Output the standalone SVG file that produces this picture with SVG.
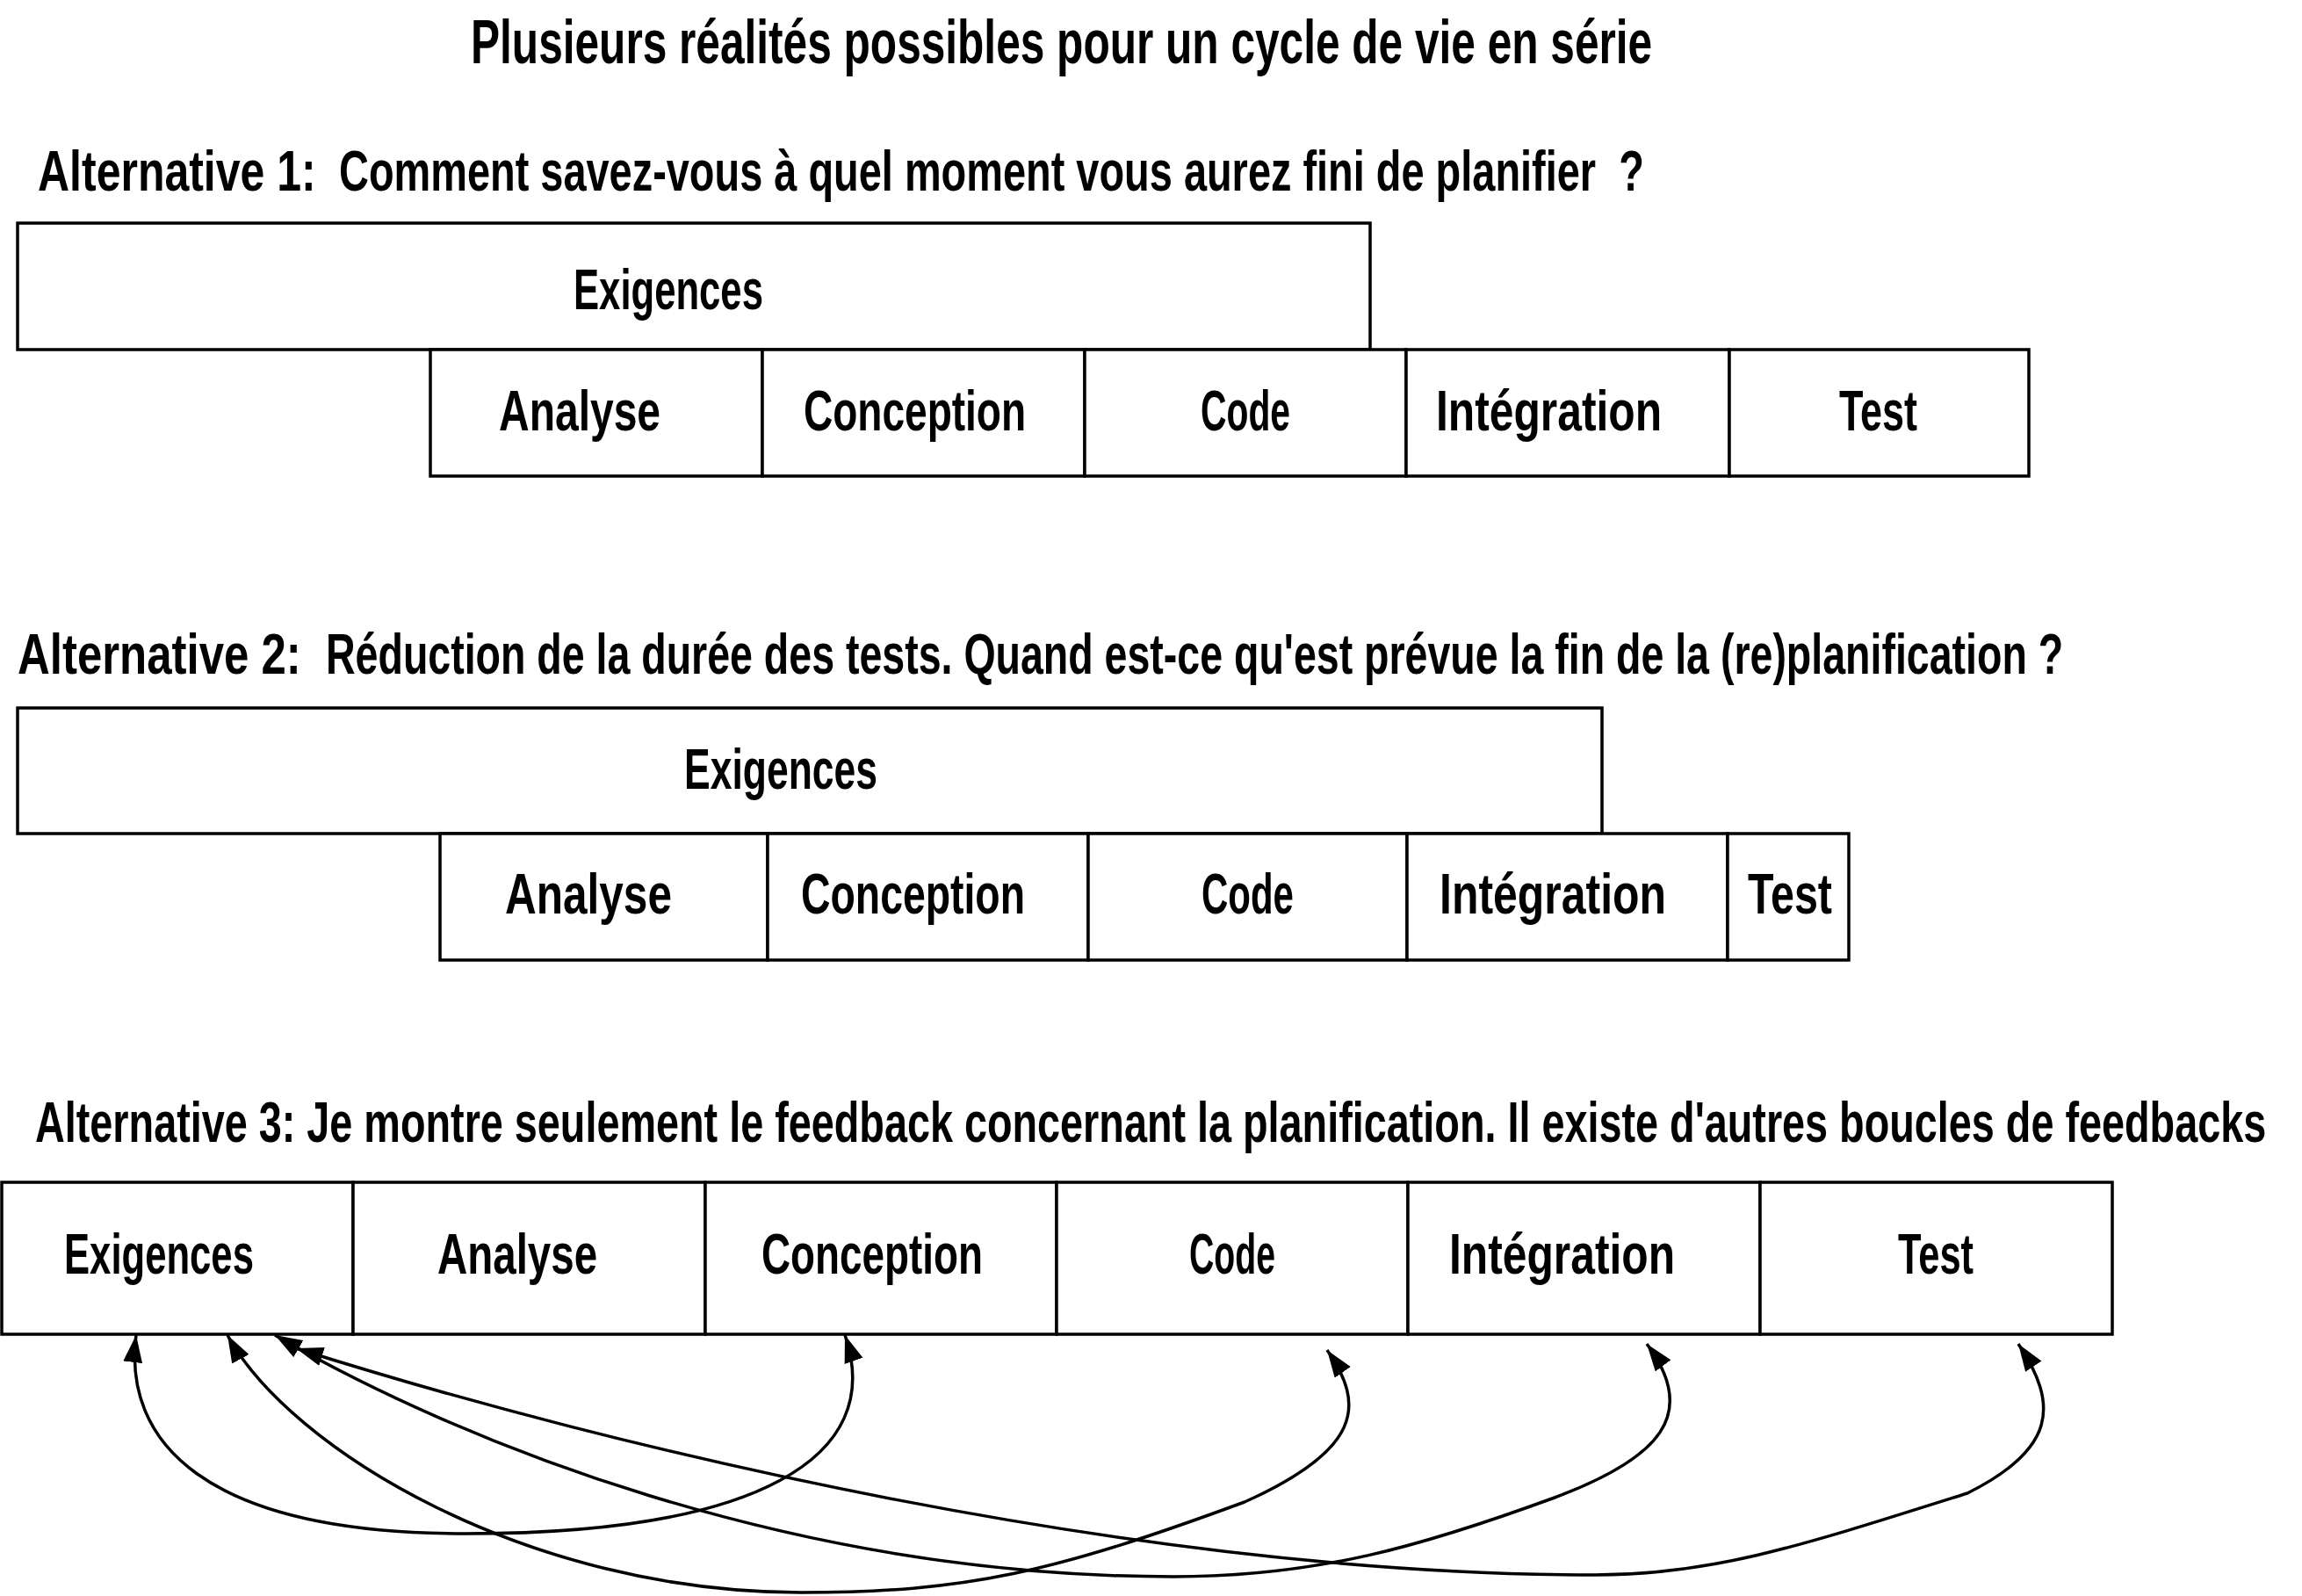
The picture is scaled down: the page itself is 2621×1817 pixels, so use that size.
<svg xmlns="http://www.w3.org/2000/svg" width="2621" height="1817" viewBox="0 0 2621 1817">
<style>
  text { font-family: "Liberation Sans", Arial, sans-serif; font-weight: bold; fill: #000; }
  .title { font-size: 70px; }
  .head { font-size: 64px; }
  .lbl { font-size: 64px; }
  .box { fill: #fff; stroke: #000; stroke-width: 3.5; }
  .conn { fill: none; stroke: #000; stroke-width: 3.5; marker-start: url(#ah); marker-end: url(#ah); }
</style>
<defs>
  <marker id="ah" markerUnits="userSpaceOnUse" markerWidth="34" markerHeight="24" refX="31" refY="11" orient="auto-start-reverse">
    <path d="M0,0 L31,11 L0,22 Z" fill="#000"/>
  </marker>
</defs>
<rect width="2621" height="1817" fill="#fff"/>

<text class="title" transform="translate(536,72) scale(0.708,1)" textLength="1900" lengthAdjust="spacingAndGlyphs">Plusieurs réalités possibles pour un cycle de vie en série</text>

<text class="head" transform="translate(43,217) scale(0.78,1)" textLength="406" lengthAdjust="spacingAndGlyphs">Alternative 1:</text>
<text class="head" transform="translate(386,217) scale(0.733,1)" textLength="2027" lengthAdjust="spacingAndGlyphs" xml:space="preserve">Comment savez-vous à quel moment vous aurez fini de planifier  ?</text>

<text class="head" transform="translate(20,767) scale(0.797,1)" textLength="405" lengthAdjust="spacingAndGlyphs">Alternative 2:</text>
<text class="head" transform="translate(371,767) scale(0.727,1)" textLength="2721" lengthAdjust="spacingAndGlyphs">Réduction de la durée des tests. Quand est-ce qu'est prévue la fin de la (re)planification ?</text>

<text class="head" transform="translate(40,1300) scale(0.731,1)" textLength="3475" lengthAdjust="spacingAndGlyphs">Alternative 3: Je montre seulement le feedback concernant la planification. Il existe d'autres boucles de feedbacks</text>

<!-- Alternative 1 -->
<g id="a1-exigences"><rect class="box" x="20" y="254" width="1540" height="144"/><text class="lbl" transform="translate(653,352) scale(0.682,1)" textLength="316.6" lengthAdjust="spacingAndGlyphs">Exigences</text></g>
<g id="a1-analyse"><rect class="box" x="490" y="398" width="378" height="144"/><text class="lbl" transform="translate(568,490) scale(0.75,1)" textLength="245.4" lengthAdjust="spacingAndGlyphs">Analyse</text></g>
<g id="a1-conception"><rect class="box" x="868" y="398" width="367" height="144"/><text class="lbl" transform="translate(915,490) scale(0.719,1)" textLength="352" lengthAdjust="spacingAndGlyphs">Conception</text></g>
<g id="a1-code"><rect class="box" x="1235" y="398" width="366" height="144"/><text class="lbl" transform="translate(1367,490) scale(0.6375,1)" textLength="160" lengthAdjust="spacingAndGlyphs">Code</text></g>
<g id="a1-integration"><rect class="box" x="1601" y="398" width="368" height="144"/><text class="lbl" transform="translate(1635,490) scale(0.779,1)" textLength="330" lengthAdjust="spacingAndGlyphs">Intégration</text></g>
<g id="a1-test"><rect class="box" x="1969" y="398" width="341" height="144"/><text class="lbl" transform="translate(2094,490) scale(0.676,1)" textLength="131.6" lengthAdjust="spacingAndGlyphs">Test</text></g>

<!-- Alternative 2 -->
<g id="a2-exigences"><rect class="box" x="20" y="806" width="1804" height="143"/><text class="lbl" transform="translate(779,898) scale(0.695,1)" textLength="316.6" lengthAdjust="spacingAndGlyphs">Exigences</text></g>
<g id="a2-analyse"><rect class="box" x="501" y="949" width="373" height="144"/><text class="lbl" transform="translate(575,1040) scale(0.774,1)" textLength="245.4" lengthAdjust="spacingAndGlyphs">Analyse</text></g>
<g id="a2-conception"><rect class="box" x="874" y="949" width="365" height="144"/><text class="lbl" transform="translate(912,1040) scale(0.7245,1)" textLength="352" lengthAdjust="spacingAndGlyphs">Conception</text></g>
<g id="a2-code"><rect class="box" x="1239" y="949" width="363" height="144"/><text class="lbl" transform="translate(1368,1040) scale(0.656,1)" textLength="160" lengthAdjust="spacingAndGlyphs">Code</text></g>
<g id="a2-integration"><rect class="box" x="1602" y="949" width="365" height="144"/><text class="lbl" transform="translate(1639,1040) scale(0.782,1)" textLength="330" lengthAdjust="spacingAndGlyphs">Intégration</text></g>
<g id="a2-test"><rect class="box" x="1967" y="949" width="138" height="144"/><text class="lbl" transform="translate(1990,1040) scale(0.729,1)" textLength="131.6" lengthAdjust="spacingAndGlyphs">Test</text></g>

<!-- Alternative 3 -->
<g id="a3-exigences"><rect class="box" x="2" y="1346" width="400" height="173"/><text class="lbl" transform="translate(73,1450) scale(0.682,1)" textLength="316.6" lengthAdjust="spacingAndGlyphs">Exigences</text></g>
<g id="a3-analyse"><rect class="box" x="402" y="1346" width="401" height="173"/><text class="lbl" transform="translate(498,1450) scale(0.742,1)" textLength="245.4" lengthAdjust="spacingAndGlyphs">Analyse</text></g>
<g id="a3-conception"><rect class="box" x="803" y="1346" width="400" height="173"/><text class="lbl" transform="translate(867,1450) scale(0.716,1)" textLength="352" lengthAdjust="spacingAndGlyphs">Conception</text></g>
<g id="a3-code"><rect class="box" x="1203" y="1346" width="400" height="173"/><text class="lbl" transform="translate(1354,1450) scale(0.6125,1)" textLength="160" lengthAdjust="spacingAndGlyphs">Code</text></g>
<g id="a3-integration"><rect class="box" x="1603" y="1346" width="401" height="173"/><text class="lbl" transform="translate(1650,1450) scale(0.779,1)" textLength="330" lengthAdjust="spacingAndGlyphs">Intégration</text></g>
<g id="a3-test"><rect class="box" x="2004" y="1346" width="401" height="173"/><text class="lbl" transform="translate(2161,1450) scale(0.653,1)" textLength="131.6" lengthAdjust="spacingAndGlyphs">Test</text></g>

<g id="connectors">
  <path class="conn" d="M155,1520 C140,1640 230,1746 531,1746 C860,1746 1010,1660 962,1520"/>
  <path class="conn" d="M259,1520 C330,1650 600,1813 912,1813 C1100,1813 1200,1790 1417,1710 C1550,1650 1555,1600 1511,1537"/>
  <path class="conn" d="M313,1520 C520,1640 900,1795 1336,1795 C1500,1795 1620,1760 1770,1705 C1890,1660 1935,1610 1875,1530"/>
  <path class="conn" d="M337,1535 C700,1650 1300,1793 1816,1793 C1950,1793 2050,1760 2240,1700 C2340,1650 2345,1600 2298,1530"/>
</g>
</svg>
